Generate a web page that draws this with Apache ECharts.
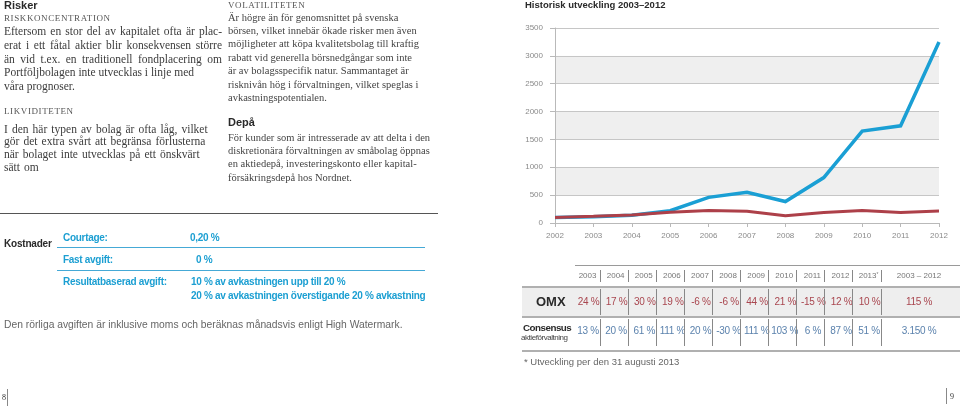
<!DOCTYPE html>
<html><head><meta charset="utf-8">
<script src="https://cdn.jsdelivr.net/npm/echarts@6/dist/echarts.min.js"></script>
<style>
html,body{margin:0;padding:0;background:#fff;}
#page{position:relative;width:960px;height:406px;overflow:hidden;background:#fff;}
#chart{position:absolute;left:0;top:0;width:960px;height:406px;}
#overlay{position:absolute;left:0;top:0;width:960px;height:406px;pointer-events:none;}
.t{position:absolute;white-space:nowrap;}
.serif{font-family:"Liberation Serif","DejaVu Serif",serif;}
.sans{font-family:"Liberation Sans",Arial,sans-serif;}
.hr{position:absolute;height:0;}
.vr{position:absolute;width:0;}
sup{font-size:60%;vertical-align:top;position:relative;top:-1px;}
</style></head><body>
<div id="page"><div id="chart"></div><div id="overlay"></div></div>
<script>
// ---------- chart data ----------
const chartTitle = 'Historisk utveckling 2003–2012';
const years = ['2002','2003','2004','2005','2006','2007','2008','2009','2010','2011','2012'];
const consensusIndex = [100, 113, 140, 220, 460, 550, 385, 815, 1650, 1745, 3250];
const omxIndex = [100, 120, 145, 195, 225, 210, 130, 190, 225, 190, 215];
const yMin = 0, yMax = 3500, yStep = 500;

// ---------- table data ----------
const tableYears = ['2003','2004','2005','2006','2007','2008','2009','2010','2011','2012','2013*'];
const omxReturns = ['24 %','17 %','30 %','19 %','-6 %','-6 %','44 %','21 %','-15 %','12 %','10 %'];
const consensusReturns = ['13 %','20 %','61 %','111 %','20 %','-30 %','111 %','103 %','6 %','87 %','51 %'];
const totalHeader = '2003 – 2012';
const omxTotal = '115 %';
const consensusTotal = '3.150 %';
const footnote = '* Utveckling per den 31 augusti 2013';

// ---------- text ----------
const riskTitle = 'Risker';
const riskHead1 = 'RISKKONCENTRATION';
const riskLines1 = ['Eftersom en stor del av kapitalet ofta är plac-','erat i ett fåtal aktier blir konsekvensen större','än vid t.ex. en traditionell fondplacering om','Portföljbolagen inte utvecklas i linje med','våra prognoser.'];
const riskJust1 = [true,true,true,false,false];
const riskHead2 = 'LIKVIDITETEN';
const riskLines2 = ['I den här typen av bolag är ofta låg, vilket','gör det extra svårt att begränsa förlusterna','när bolaget inte utvecklas på ett önskvärt','sätt om'];
const volHead = 'VOLATILITETEN';
const volLines = ['Är högre än för genomsnittet på svenska','börsen, vilket innebär ökade risker men även','möjligheter att köpa kvalitetsbolag till kraftig','rabatt vid generella börsnedgångar som inte','är av bolagsspecifik natur. Sammantaget är','risknivån hög i förvaltningen, vilket speglas i','avkastningspotentialen.'];
const depaHead = 'Depå';
const depaLines = ['För kunder som är intresserade av att delta i den','diskretionära förvaltningen av småbolag öppnas','en aktiedepå, investeringskonto eller kapital-','försäkringsdepå hos Nordnet.'];
const costTitle = 'Kostnader';
const costLabels = ['Courtage:','Fast avgift:','Resultatbaserad avgift:'];
const costValues = [['0,20 %'],['0 %'],['10 % av avkastningen upp till 20 %','20 % av avkastningen överstigande 20 % avkastning']];
const costNote = 'Den rörliga avgiften är inklusive moms och beräknas månadsvis enligt High Watermark.';

// ---------- chart ----------
const chart = echarts.init(document.getElementById('chart'), null, {renderer:'canvas'});
const axisGray = '#b9b9b9';
chart.setOption({
  animation:false,
  backgroundColor:'#ffffff',
  title:{text:chartTitle,left:525,top:0,padding:0,textStyle:{fontFamily:'Liberation Sans',fontSize:9.5,fontWeight:'bold',color:'#2a2a2a'}},
  grid:{left:555,right:21,top:28,bottom:183,containLabel:false},
  xAxis:{type:'category',data:years,boundaryGap:false,
    axisLine:{show:true,lineStyle:{color:axisGray,width:1}},
    axisTick:{show:true,length:4,lineStyle:{color:axisGray}},
    axisLabel:{fontFamily:'Liberation Sans',fontSize:8,color:'#8a8a8a',margin:9},
    splitLine:{show:false}},
  yAxis:{type:'value',min:yMin,max:yMax,interval:yStep,
    axisLine:{show:true,lineStyle:{color:axisGray,width:1}},
    axisTick:{show:true,length:5,lineStyle:{color:axisGray}},
    axisLabel:{fontFamily:'Liberation Sans',fontSize:8,color:'#8a8a8a',margin:12,formatter:v=>String(v)},
    splitLine:{show:true,lineStyle:{color:'#c6c6c6',width:1}},
    splitArea:{show:true,areaStyle:{color:['#ffffff','#efefef']}}},
  series:[
    {name:'Consensus',type:'line',data:consensusIndex,showSymbol:false,symbol:'none',
     lineStyle:{color:'#1a9fd4',width:3.5,join:'miter'},itemStyle:{color:'#1a9fd4'}},
    {name:'OMX',type:'line',data:omxIndex,showSymbol:false,symbol:'none',
     lineStyle:{color:'#ad4049',width:3},itemStyle:{color:'#ad4049'}}
  ]
});

// ---------- overlay helpers ----------
const ov = document.getElementById('overlay');
function txt(x, yc, s, css, cls){
  const d = document.createElement('div');
  d.className = 't ' + (cls||'');
  if (s.endsWith('*') && s.length > 1) {
    d.textContent = s.slice(0,-1);
    const sp = document.createElement('sup'); sp.textContent='*'; d.appendChild(sp);
  } else d.textContent = s;
  const lh = 14;
  d.style.left = x + 'px';
  d.style.top = (yc - lh/2) + 'px';
  d.style.lineHeight = lh + 'px';
  if (css) Object.assign(d.style, css);
  ov.appendChild(d);
  return d;
}
function hline(x1, x2, y, color, w){
  const d = document.createElement('div'); d.className='hr';
  d.style.left = x1+'px'; d.style.width=(x2-x1)+'px'; d.style.top=(y - w/2)+'px';
  d.style.borderTop = w+'px solid '+color; ov.appendChild(d);
}
function vline(x, y1, y2, color, w){
  const d = document.createElement('div'); d.className='vr';
  d.style.left=(x - w/2)+'px'; d.style.top=y1+'px'; d.style.height=(y2-y1)+'px';
  d.style.borderLeft = w+'px solid '+color; ov.appendChild(d);
}
function rect(x1,y1,x2,y2,color){
  const d = document.createElement('div'); d.style.position='absolute';
  d.style.left=x1+'px'; d.style.top=y1+'px'; d.style.width=(x2-x1)+'px'; d.style.height=(y2-y1)+'px';
  d.style.background=color; ov.appendChild(d);
}

// ---------- left column ----------
const bodyCss = {fontSize:'11.5px',color:'#3c3c3c'};
const capsCss = {fontSize:'9px',color:'#555',letterSpacing:'0.6px'};
const headSans = {fontSize:'11px',fontWeight:'bold',color:'#2a2a2a'};
txt(4, 5, riskTitle, headSans, 'sans');
txt(4, 18, riskHead1, capsCss, 'serif');
riskLines1.forEach((s,i)=>{
  const d = txt(4, 31 + i*13.75, s, bodyCss, 'serif');
  if (riskJust1[i]) { d.style.width='218px'; d.style.textAlign='justify'; d.style.textAlignLast='justify'; d.style.whiteSpace='normal'; }
});
txt(4, 111, riskHead2, capsCss, 'serif');
riskLines2.forEach((s,i)=>{ txt(4, 128.5 + i*12.8, s, Object.assign({wordSpacing:'1.2px'}, bodyCss), 'serif'); });

// ---------- middle column ----------
const midCss = {fontSize:'10.5px',color:'#444'};
txt(228, 5, volHead, capsCss, 'serif');
volLines.forEach((s,i)=>{ txt(228, 17.5 + i*13.4, s, midCss, 'serif'); });
txt(228, 122, depaHead, headSans, 'sans');
depaLines.forEach((s,i)=>{ txt(228, 137.5 + i*13.4, s, midCss, 'serif'); });

// ---------- costs ----------
hline(0, 438, 214, '#555', 1.5);
const blue = '#1c9fd2';
const costCss = {fontSize:'10px',fontWeight:'bold',color:blue,letterSpacing:'-0.3px'};
txt(4, 244, costTitle, {fontSize:'10px',fontWeight:'bold',color:'#2a2a2a',letterSpacing:'-0.2px'}, 'sans');
const rowY = [237.5, 259.5, 282];
const valX = [190, 196, 191];
costLabels.forEach((s,i)=>{ txt(63, rowY[i], s, costCss, 'sans'); });
costValues.forEach((arr,i)=>{ arr.forEach((s,j)=>{ txt(valX[i], rowY[i] + j*14, s, costCss, 'sans'); }); });
hline(57, 425, 248, '#45a9d6', 1.5);
hline(57, 425, 271, '#45a9d6', 1.5);
txt(4, 324.5, costNote, {fontSize:'10.3px',color:'#666'}, 'sans');

// ---------- table ----------
const colW = 28.1, col0 = 572;
const hdrY = 275.5, omxY = 302, conY = 331;
rect(522, 287, 960, 316, '#eeeeee');
hline(575, 960, 266, '#9a9a9a', 1.5);
hline(522, 960, 287, '#b0b0b0', 2);
hline(522, 960, 316.5, '#b0b0b0', 2);
hline(522, 960, 350.5, '#b0b0b0', 2);
const hdrCss = {fontSize:'8px',color:'#777',textAlign:'center',width:colW+'px'};
const omxCss = {fontSize:'10px',color:'#a9464f',textAlign:'center',width:colW+'px',letterSpacing:'-0.3px'};
const conCss = {fontSize:'10px',color:'#5b82ad',textAlign:'center',width:colW+'px',letterSpacing:'-0.3px'};
tableYears.forEach((y,i)=>{
  const x = col0 + i*colW;
  txt(x+1.5, hdrY, y, hdrCss, 'sans');
  txt(x+2.5, omxY, omxReturns[i], omxCss, 'sans');
  txt(x+2, conY, consensusReturns[i], conCss, 'sans');
  const sx = x + colW;
  vline(sx, 270, 282, '#888', 1.2);
  vline(sx, 289, 315, '#888', 1.2);
  vline(sx, 319, 346, '#888', 1.2);
});
const totX = col0 + tableYears.length*colW;
txt(totX, hdrY, totalHeader, Object.assign({}, hdrCss, {width:(960-totX-3)+'px'}), 'sans');
txt(totX, omxY, omxTotal, Object.assign({}, omxCss, {width:(960-totX-3)+'px'}), 'sans');
txt(totX, conY, consensusTotal, Object.assign({}, conCss, {width:(960-totX-3)+'px'}), 'sans');
txt(536, omxY, 'OMX', {fontSize:'13px',fontWeight:'bold',color:'#2a2a2a'}, 'sans');
txt(523, 327.5, 'Consensus', {fontSize:'9.8px',fontWeight:'bold',color:'#2a2a2a',letterSpacing:'-0.5px'}, 'sans');
txt(521, 337.5, 'aktieförvaltning', {fontSize:'8px',color:'#444',letterSpacing:'-0.45px'}, 'sans');
txt(524, 362, footnote, {fontSize:'9.5px',color:'#666'}, 'sans');

// ---------- page numbers ----------
txt(2, 398, '8', {fontSize:'8px',color:'#333'}, 'serif');
vline(7.5, 389, 406, '#888', 1);
txt(950, 397, '9', {fontSize:'8px',color:'#333'}, 'serif');
vline(946, 388, 404, '#888', 1);
</script>
</body></html>
